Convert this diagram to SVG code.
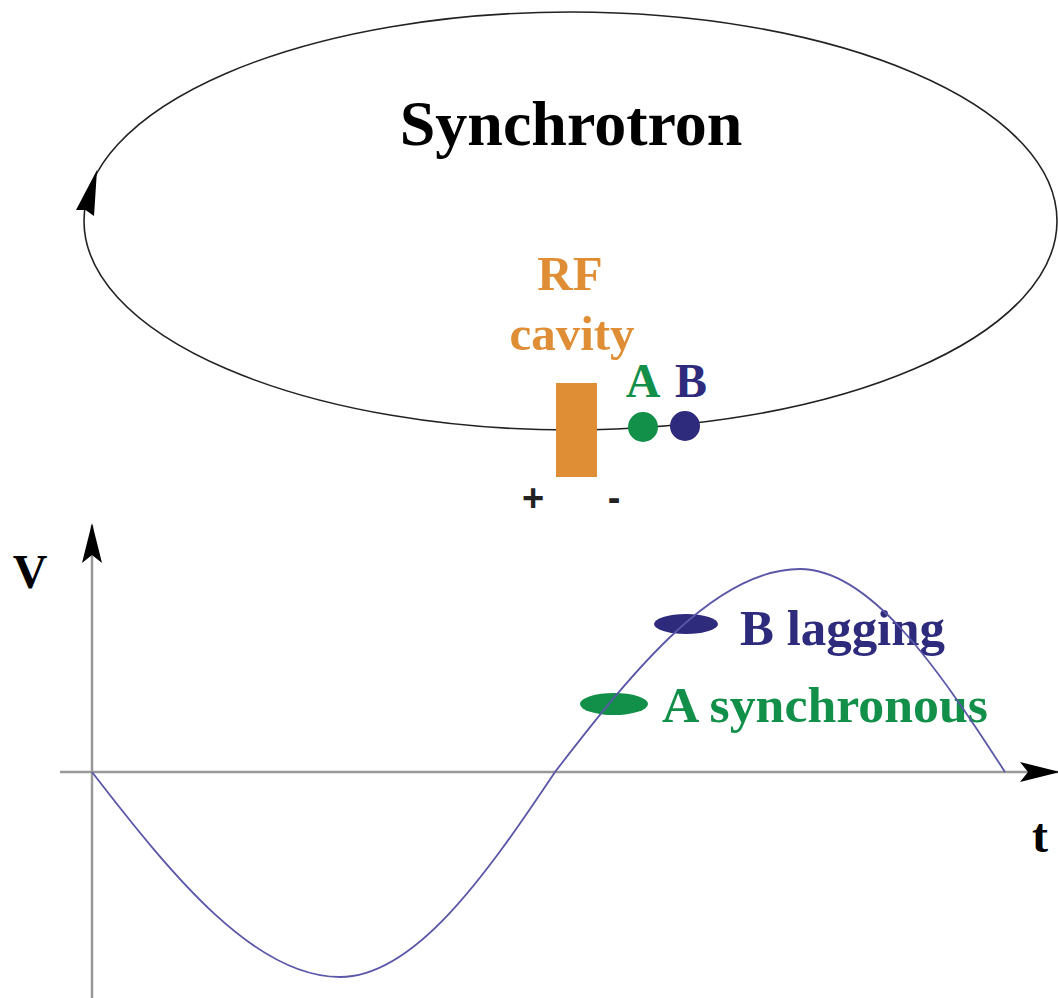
<svg xmlns="http://www.w3.org/2000/svg" width="1058" height="998" viewBox="0 0 1058 998">
<style>
.serif{font-family:"Liberation Serif","Times New Roman",serif;font-weight:bold}
.sans{font-family:"Liberation Sans",Arial,sans-serif;font-weight:bold}
.orange{fill:#E08E35}
.green{fill:#12904A}
.navy{fill:#2E2A7C}
.axis{stroke:#999;stroke-width:2.5;fill:none}
</style>
<defs>
<marker id="ah" viewBox="0 0 40 22" refX="38" refY="11" markerWidth="40" markerHeight="22" markerUnits="userSpaceOnUse" orient="auto">
<path d="M0,1 L40,11 L0,21 L8,11 Z" fill="#000"/>
</marker>
</defs>
<rect width="1058" height="998" fill="#fff"/>
<g id="ring">
<ellipse cx="570.5" cy="221" rx="486.5" ry="209" fill="none" stroke="#222" stroke-width="1.6"/>
<polygon points="97,170 94,216 85.5,210 76,210" fill="#000"/>
</g>
<g id="title"><text class="serif" x="571" y="145" font-size="64" text-anchor="middle">Synchrotron</text></g>
<g id="rf-cavity">
<text class="serif orange" x="570" y="290" font-size="49" text-anchor="middle">RF</text>
<text class="serif orange" x="572" y="350" font-size="49" text-anchor="middle">cavity</text>
<rect class="orange" x="556" y="383" width="41" height="94"/>
<text class="sans" x="533" y="511" font-size="38" text-anchor="middle" fill="#222">+</text>
<text class="sans" x="614" y="511" font-size="38" text-anchor="middle" fill="#222">-</text>
</g>
<g id="particle-A">
<circle class="green" cx="643" cy="427" r="15"/>
<text class="serif green" x="643" y="397" font-size="48" text-anchor="middle">A</text>
</g>
<g id="particle-B">
<circle class="navy" cx="685" cy="426" r="15"/>
<text class="serif navy" x="691" y="397" font-size="48" text-anchor="middle">B</text>
</g>
<g id="axis-labels">
<text class="serif" x="30" y="588" font-size="48" text-anchor="middle">V</text>
<text class="serif" x="1040" y="852" font-size="48" text-anchor="middle">t</text>
</g>
<g id="bunch-B">
<ellipse class="navy" cx="686" cy="624" rx="32" ry="10"/>
<text class="serif navy" x="740" y="645" font-size="50" textLength="205" lengthAdjust="spacingAndGlyphs">B lagging</text>
</g>
<g id="bunch-A">
<ellipse class="green" cx="614" cy="704" rx="34" ry="11"/>
<text class="serif green" x="662" y="722" font-size="50" textLength="326" lengthAdjust="spacingAndGlyphs">A synchronous</text>
</g>
<g id="connectors">
<line class="axis" x1="92" y1="998" x2="92" y2="525" marker-end="url(#ah)"/>
<line class="axis" x1="60" y1="772" x2="1058" y2="772" marker-end="url(#ah)"/>
<path d="M92,772 C173,877 255,977 340,977 C414,977 485,877 555,772 C635,668 716,569 800,569 C870,569 938,668 1005,772" fill="none" stroke="#5A56A8" stroke-width="1.8"/>
</g>
</svg>
